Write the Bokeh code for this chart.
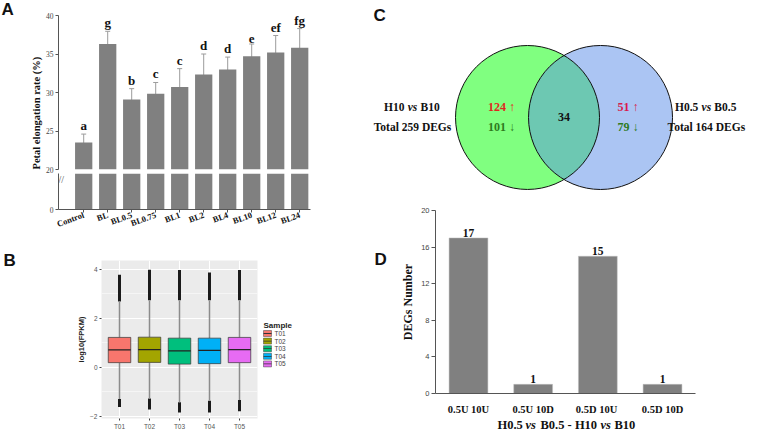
import numpy as np
from bokeh.plotting import figure
from bokeh.layouts import row, column
from bokeh.models import (ColumnDataSource, Range1d, FixedTicker, Whisker, TeeHead, Title)
from bokeh.core.properties import value
from bokeh.embed import file_html
from bokeh.resources import INLINE

# ---------------- data ----------------
# Panel A: petal elongation rate (%)
a_groups = ["Control", "BL", "BL0.5", "BL0.75", "BL1", "BL2", "BL4", "BL10", "BL12", "BL24"]
a_means = [23.5, 36.3, 29.1, 29.85, 30.7, 32.35, 33.0, 34.7, 35.2, 35.8]
a_errs = [1.1, 1.65, 1.4, 1.45, 2.4, 2.65, 1.6, 1.6, 2.2, 2.5]
a_letters = ["a", "g", "b", "c", "c", "d", "d", "e", "ef", "fg"]
a_ticks_top = [20, 25, 30, 35, 40]
a_ticks_bottom = [0]
a_break = 20
a_top = 40

# Panel B: log10(FPKM) boxplots
b_samples = ["T01", "T02", "T03", "T04", "T05"]
b_colors = ["#F8766D", "#A3A500", "#00BF7D", "#00B0F6", "#E76BF3"]
b_q1 = [0.18, 0.19, 0.12, 0.14, 0.18]
b_med = [0.70, 0.71, 0.66, 0.68, 0.71]
b_q3 = [1.21, 1.22, 1.18, 1.18, 1.21]
b_whisk_lo = [-1.30, -1.28, -1.44, -1.38, -1.34]
b_whisk_hi = [2.68, 2.73, 2.73, 2.73, 2.73]
b_out_lo_min = [-1.63, -1.73, -1.86, -1.86, -1.80]
b_out_hi_max = [3.77, 3.97, 3.96, 3.86, 3.96]
b_yticks = [-2, 0, 2, 4]
b_yminor = [-1, 1, 3]

# Panel C: Venn diagram counts
c_names = [("H10", "B10"), ("H0.5", "B0.5")]
c_up = [124, 51]
c_down = [101, 79]
c_shared = 34
c_totals = [259, 164]

# Panel D: shared DEGs
d_cats = ["0.5U 10U", "0.5U 10D", "0.5D  10U", "0.5D 10D"]
d_vals = [17, 1, 15, 1]
d_yticks = [0, 4, 8, 12, 16, 20]

SERIF = "Liberation Serif"
SANS = "Liberation Sans"
BAR = "#808080"
INK = "#111111"


def fig(**kw):
    p = figure(output_backend="svg", toolbar_location=None, frame_align=False, **kw)
    p.outline_line_color = None
    p.grid.grid_line_color = None
    return p


def letter_fig(txt, w, h, xo, yo):
    p = fig(width=w, height=h, x_range=Range1d(0, 1), y_range=Range1d(0, 1),
            x_axis_location=None, y_axis_location=None, min_border=0)
    p.text(x=[0], y=[1], text=[txt], x_offset=xo, y_offset=yo, text_align="left",
           text_baseline="top", text_font=value(SANS), text_font_style="bold",
           text_font_size="17px", text_color=INK)
    return p


# ---------------- Panel A (broken axis: two stacked figures) ----------------
xs_a = list(range(len(a_groups)))
src_a = ColumnDataSource(dict(
    x=xs_a, top=a_means,
    upper=[m + e for m, e in zip(a_means, a_errs)],
    lower=[m - e for m, e in zip(a_means, a_errs)],
    letter=a_letters))
xr_a = Range1d(-1.05, 9.45)

pa = fig(width=339, height=173, x_range=xr_a, y_range=Range1d(a_break, a_top),
         x_axis_location=None, min_border_left=42, min_border_right=45,
         min_border_top=15, min_border_bottom=4)
pa.vbar(x="x", top="top", bottom=0, width=0.72, source=src_a, fill_color=BAR, line_color=None)
wc = "#9c9c9c"
pa.add_layout(Whisker(base="x", upper="upper", lower="lower", source=src_a,
                      line_color=wc, line_width=1,
                      upper_head=TeeHead(size=5, line_color=wc, line_width=1),
                      lower_head=TeeHead(size=5, line_color=wc, line_width=1)))
pa.text(x="x", y="upper", text="letter", source=src_a, text_align="center",
        text_baseline="bottom", y_offset=-1, text_font=value(SERIF), text_font_style="bold",
        text_font_size="13px", text_color=INK)
pa.yaxis.ticker = FixedTicker(ticks=a_ticks_top)
pa.add_layout(Title(text="Petal elongation rate (%)", align="left", offset=0, standoff=2,
                    text_font=SERIF, text_font_style="bold", text_font_size="10.5px",
                    text_color=INK), "left")

pa2 = fig(width=339, height=63, x_range=xr_a, y_range=Range1d(0, a_break),
          min_border_left=42, min_border_right=45, min_border_top=0, min_border_bottom=26)
pa2.vbar(x="x", top="top", bottom=0, width=0.72, source=src_a, fill_color=BAR, line_color=None)
pa2.yaxis.ticker = FixedTicker(ticks=a_ticks_bottom)
pa2.xaxis.ticker = FixedTicker(ticks=xs_a)
pa2.xaxis.major_label_overrides = {i: g for i, g in enumerate(a_groups)}
pa2.xaxis.major_label_orientation = 0.35
pa2.xaxis.major_label_text_font = SERIF
pa2.xaxis.major_label_text_font_style = "bold"
pa2.xaxis.major_label_text_font_size = "8.5px"
pa2.xaxis.major_label_text_color = INK
pa2.xaxis.major_label_standoff = 2
pa2.text(x=[xr_a.start], y=[a_break], text=["//"], x_offset=0, y_offset=0, text_align="left",
         text_baseline="top", text_font=value(SERIF), text_font_size="10px",
         text_color="#555555")

for p in (pa, pa2):
    p.axis.axis_line_color = "#555555"
    p.axis.major_tick_line_color = "#555555"
    p.axis.major_tick_out = 3
    p.axis.major_tick_in = 0
    p.axis.minor_tick_line_color = None
    p.yaxis.major_label_text_font = SERIF
    p.yaxis.major_label_text_font_size = "7.5px"
    p.yaxis.major_label_text_color = "#444444"
    p.yaxis.major_label_standoff = 2

alet = letter_fig("A", 16, 236, 1, -1)

# ---------------- Panel B (ggplot-like boxplot) ----------------
xs_b = list(range(1, len(b_samples) + 1))
src_b = ColumnDataSource(dict(x=xs_b, q1=b_q1, med=b_med, q3=b_q3, wlo=b_whisk_lo,
                              whi=b_whisk_hi, olo=b_out_lo_min, ohi=b_out_hi_max,
                              color=b_colors, name=b_samples))
pb = fig(width=245, height=196, x_range=Range1d(0.4, 5.6), y_range=Range1d(-2.1, 4.35),
         min_border_left=85, min_border_right=4, min_border_top=24, min_border_bottom=11)
pb.background_fill_color = "#EBEBEB"
pb.xgrid.ticker = FixedTicker(ticks=xs_b)
pb.ygrid.ticker = FixedTicker(ticks=b_yticks, minor_ticks=b_yminor)
pb.grid.grid_line_color = "white"
pb.grid.grid_line_width = 1
pb.ygrid.minor_grid_line_color = "white"
pb.ygrid.minor_grid_line_width = 0.5
pb.segment(x0="x", y0="whi", x1="x", y1="ohi", source=src_b, line_color="#1a1a1a", line_width=3)
pb.segment(x0="x", y0="wlo", x1="x", y1="olo", source=src_b, line_color="#1a1a1a", line_width=3)
pb.segment(x0="x", y0="q3", x1="x", y1="whi", source=src_b, line_color="#8c8c8c", line_width=1.5)
pb.segment(x0="x", y0="q1", x1="x", y1="wlo", source=src_b, line_color="#8c8c8c", line_width=1.5)
pb.vbar(x="x", bottom="q1", top="q3", width=0.75, source=src_b, fill_color="color",
        line_color="#333333", line_width=0.7)
pb.rect(x="x", y="med", width=0.75, height=1.4, height_units="screen", source=src_b,
        fill_color="#222222", line_color=None)
pb.xaxis.ticker = FixedTicker(ticks=xs_b)
pb.xaxis.major_label_overrides = {i: s for i, s in zip(xs_b, b_samples)}
pb.yaxis.ticker = FixedTicker(ticks=b_yticks)
pb.axis.axis_line_color = None
pb.axis.major_tick_line_color = "#444444"
pb.axis.major_tick_out = 2
pb.axis.major_tick_in = 0
pb.axis.minor_tick_line_color = None
pb.axis.major_label_text_font = SANS
pb.axis.major_label_text_font_size = "6.5px"
pb.axis.major_label_text_color = "#555555"
pb.axis.major_label_standoff = 2
pb.yaxis.axis_label = "log10(FPKM)"
pb.yaxis.axis_label_text_font = SANS
pb.yaxis.axis_label_text_font_style = "bold"
pb.yaxis.axis_label_text_font_size = "7.5px"
pb.yaxis.axis_label_text_color = "#222222"
pb.yaxis.axis_label_standoff = 1

# legend of panel B drawn in its own small figure (keys + labels from the sample lists)
leg_x0, leg_y0, leg_step = 2.0, 97.0, 7.6
leg_y = [leg_y0 + i * leg_step for i in range(len(b_samples))]
src_leg = ColumnDataSource(dict(y=leg_y, color=b_colors, name=b_samples))
pleg = fig(width=94, height=196, x_range=Range1d(0, 94), y_range=Range1d(196, 0),
           x_axis_location=None, y_axis_location=None, min_border=0)
pleg.text(x=[leg_x0], y=[leg_y0 - 8], text=["Sample"], text_align="left", text_baseline="middle",
          text_font=value(SANS), text_font_style="bold", text_font_size="8px",
          text_color="#222222")
pleg.rect(x=leg_x0 + 4, y="y", width=8, height=6, source=src_leg, fill_color="color",
          line_color="#444444", line_width=0.5)
pleg.rect(x=leg_x0 + 4, y="y", width=8, height=0.8, source=src_leg, fill_color="#333333",
          line_color=None)
pleg.text(x=leg_x0 + 11, y="y", text="name", source=src_leg, text_align="left",
          text_baseline="middle", text_font=value(SANS), text_font_size="6.5px",
          text_color="#444444")

blet = letter_fig("B", 16, 196, 3, 14)

# ---------------- Panel C (Venn) ----------------
R = 1.0          # circle radius
D = 0.507        # half distance between centres
pc = fig(width=394, height=200, x_range=Range1d(-2.896, 2.576), y_range=Range1d(-1.153, 1.625),
         x_axis_location=None, y_axis_location=None, min_border=0)
pc.circle(x=[-D], y=[0], radius=R, fill_color="#80FF80", line_color=None)
pc.circle(x=[D], y=[0], radius=R, fill_color="#ABC5F3", line_color=None)
th = np.arccos(D / R)
t1 = np.linspace(-th, th, 60)
t2 = np.linspace(np.pi - th, np.pi + th, 60)
lens_x = np.concatenate([-D + R * np.cos(t1), D + R * np.cos(t2)])
lens_y = np.concatenate([R * np.sin(t1), R * np.sin(t2)])
pc.patch(lens_x, lens_y, fill_color="#6DC8B2", line_color=None)
pc.circle(x=[-D, D], y=[0, 0], radius=R, fill_color=None, line_color=INK, line_width=1)

FS = "11.5px"
dy = 0.139
lab_x = [-D - R - 0.597, D + R + 0.47]
cnt_x = [-D - 0.36, D + 0.38]
up_col = ["#E0261E", "#D81B4C"]
for i in range(2):
    a, b = c_names[i]
    cx = lab_x[i]
    pc.text(x=[cx], y=[dy], text=[a], x_offset=-8, text_align="right", text_baseline="middle",
            text_font=value(SERIF), text_font_style="bold", text_font_size=FS, text_color=INK)
    pc.text(x=[cx], y=[dy], text=["vs"], text_align="center", text_baseline="middle",
            text_font=value(SERIF), text_font_style="bold italic", text_font_size=FS,
            text_color=INK)
    pc.text(x=[cx], y=[dy], text=[b], x_offset=8, text_align="left", text_baseline="middle",
            text_font=value(SERIF), text_font_style="bold", text_font_size=FS, text_color=INK)
    pc.text(x=[cx], y=[-dy], text=[f"Total {c_totals[i]} DEGs"], text_align="center",
            text_baseline="middle", text_font=value(SERIF), text_font_style="bold",
            text_font_size=FS, text_color=INK)
    pc.text(x=[cnt_x[i]], y=[dy], text=[f"{c_up[i]} \u2191"], text_align="center",
            text_baseline="middle", text_font=value(SERIF), text_font_style="bold",
            text_font_size="12px", text_color=up_col[i])
    pc.text(x=[cnt_x[i]], y=[-dy], text=[f"{c_down[i]} \u2193"], text_align="center",
            text_baseline="middle", text_font=value(SERIF), text_font_style="bold",
            text_font_size="12px", text_color="#2E7A1E")
pc.text(x=[0], y=[0], text=[str(c_shared)], text_align="center", text_baseline="middle",
        text_font=value(SERIF), text_font_style="bold", text_font_size="12px", text_color=INK)
pc.text(x=[-2.896], y=[1.625], text=["C"], x_offset=18, y_offset=5, text_align="left",
        text_baseline="top", text_font=value(SANS), text_font_style="bold",
        text_font_size="17px", text_color=INK)

# ---------------- Panel D ----------------
xs_d = list(range(len(d_cats)))
src_d = ColumnDataSource(dict(x=xs_d, top=d_vals, lab=[str(v) for v in d_vals]))
xr_d = Range1d(-0.51, 3.51)
pdd = fig(width=362, height=217, x_range=xr_d, y_range=Range1d(0, 20),
          min_border_left=48, min_border_right=54, min_border_top=10, min_border_bottom=16)
pdd.vbar(x="x", top="top", bottom=0, width=0.6, source=src_d, fill_color=BAR,
         line_color="#bdbdbd", line_width=0.5)
pdd.text(x="x", y="top", text="lab", source=src_d, text_align="center", text_baseline="bottom",
         y_offset=-1, text_font=value(SERIF), text_font_style="bold", text_font_size="11.5px",
         text_color=INK)
pdd.xaxis.ticker = FixedTicker(ticks=xs_d)
pdd.xaxis.major_label_overrides = {i: c for i, c in enumerate(d_cats)}
pdd.xaxis.major_tick_line_color = None
pdd.xaxis.major_label_text_font = SERIF
pdd.xaxis.major_label_text_font_style = "bold"
pdd.xaxis.major_label_text_font_size = "10.5px"
pdd.xaxis.major_label_text_color = INK
pdd.xaxis.major_label_standoff = 4
pdd.yaxis.ticker = FixedTicker(ticks=d_yticks)
pdd.yaxis.major_tick_line_color = "#555555"
pdd.yaxis.major_tick_out = 4
pdd.yaxis.major_tick_in = 0
pdd.yaxis.major_label_text_font = SANS
pdd.yaxis.major_label_text_font_size = "7.5px"
pdd.yaxis.major_label_text_color = "#444444"
pdd.yaxis.major_label_standoff = 2
pdd.axis.minor_tick_line_color = None
pdd.axis.axis_line_color = "#555555"
pdd.yaxis.axis_label = "DEGs Number"
pdd.yaxis.axis_label_text_font = SERIF
pdd.yaxis.axis_label_text_font_style = "bold"
pdd.yaxis.axis_label_text_font_size = "12px"
pdd.yaxis.axis_label_text_color = INK
pdd.yaxis.axis_label_standoff = 3

dlet = letter_fig("D", 32, 217, 19, 49)

# x-axis title of panel D (with italic "vs"), in a strip figure sharing D's x range
pxl = fig(width=394, height=15, x_range=xr_d, y_range=Range1d(0, 1),
          x_axis_location=None, y_axis_location=None, min_border_left=80,
          min_border_right=54, min_border_top=0, min_border_bottom=0)
xl_parts = [("H0.5", "bold", -68), ("vs", "bold italic", -40), ("B0.5 - H10", "bold", -25),
            ("vs", "bold italic", 35), ("B10", "bold", 49)]
for txt, style, xo in xl_parts:
    pxl.text(x=[1.5], y=[0.5], text=[txt], x_offset=xo, text_align="left",
             text_baseline="middle", text_font=value(SERIF), text_font_style=style,
             text_font_size="12.5px", text_color=INK)

left = column(row(alet, column(pa, pa2)), row(blet, pb, pleg))
right = column(pc, row(dlet, pdd), pxl)
layout = row(left, right)
open("out.html", "w").write(file_html(layout, INLINE))
